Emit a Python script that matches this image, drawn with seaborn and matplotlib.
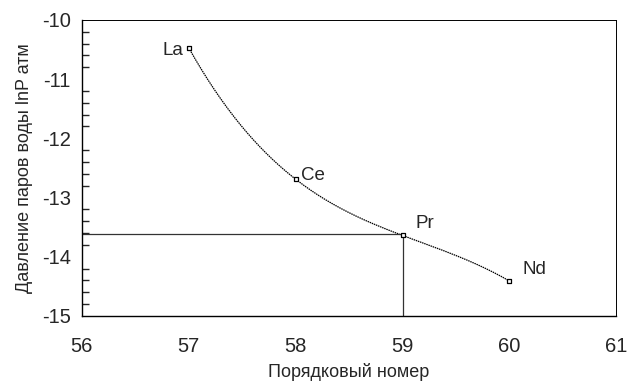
import numpy as np
import matplotlib
matplotlib.use("Agg")
import matplotlib.pyplot as plt
import seaborn as sns
from matplotlib.ticker import MultipleLocator

# atomic number vs ln P (water vapour pressure, atm)
elements = ["La", "Ce", "Pr", "Nd"]
atomic_number = [57, 58, 59, 60]
ln_p = [-10.47, -12.69, -13.64, -14.41]

# reading of Pr value on the axes
pr_x = 59
pr_y = -13.62

sns.set_style("white")
plt.rcParams['font.family'] = ['Liberation Sans', 'DejaVu Sans']
plt.rcParams['axes.unicode_minus'] = False

fig = plt.figure(figsize=(6.29, 3.83), dpi=100)
ax = fig.add_axes([0.130, 0.175, 0.850, 0.773])

# smooth curve through the points (cubic through the 4 points)
coef = np.polyfit(atomic_number, ln_p, 3)
xs = np.linspace(min(atomic_number), max(atomic_number), 200)
sns.lineplot(x=xs, y=np.polyval(coef, xs), ax=ax, color="black", lw=0.9,
             linestyle=(0, (1.2, 0.6)))
sns.scatterplot(x=atomic_number, y=ln_p, ax=ax, marker="s", s=12,
                facecolor="white", edgecolor="black", linewidth=0.9, zorder=3)

# guide lines to Pr
ax.plot([56, pr_x], [pr_y, pr_y], color="#333333", lw=0.9)
ax.plot([pr_x, pr_x], [-15, pr_y], color="#333333", lw=0.9)

offsets = {"La": (-0.05, -0.05, "right"), "Ce": (0.05, 0.07, "left"),
           "Pr": (0.12, 0.2, "left"), "Nd": (0.12, 0.2, "left")}
for name, xv, yv in zip(elements, atomic_number, ln_p):
    dx, dy, ha = offsets[name]
    ax.text(xv + dx, yv + dy, name, ha=ha, va="center", fontsize=13.5)

ax.set_xlim(56, 61)
ax.set_ylim(-15, -10)
ax.xaxis.set_major_locator(MultipleLocator(1))
ax.yaxis.set_major_locator(MultipleLocator(1))
ax.yaxis.set_minor_locator(MultipleLocator(0.2))
ax.tick_params(axis="x", which="major", direction="in", length=4, width=1, labelsize=14.5, pad=15)
ax.tick_params(axis="y", which="major", direction="inout", length=10, width=1, labelsize=14.5, pad=3)
ax.tick_params(axis="y", which="minor", direction="in", length=5, width=1, left=True)
for sp in ax.spines.values():
    sp.set_color("black")
    sp.set_linewidth(1)
ax.spines["top"].set_linewidth(0.7)
ax.spines["right"].set_linewidth(0.7)

ax.set_xlabel("Порядковый номер", fontsize=13, labelpad=5)
ax.set_ylabel("Давление паров воды lnP атм", fontsize=13, labelpad=6)

fig.savefig("out.png", dpi=100)
